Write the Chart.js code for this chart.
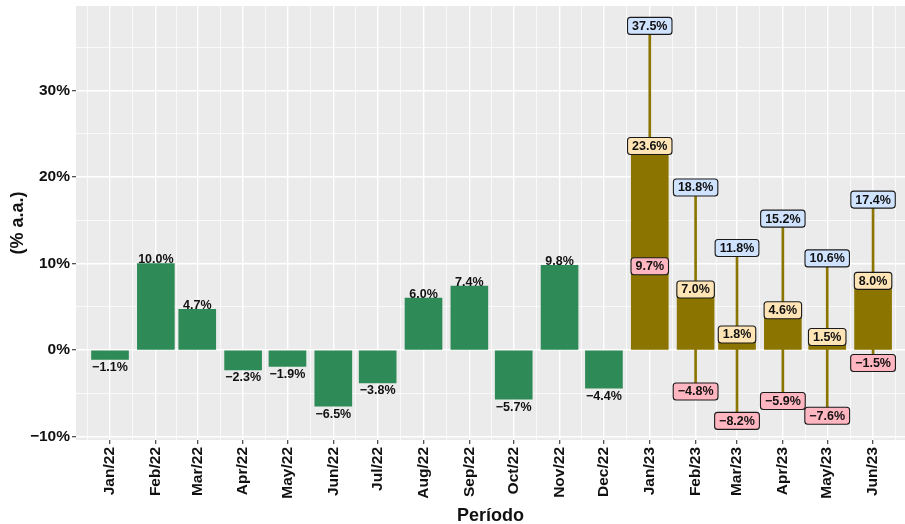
<!DOCTYPE html>
<html>
<head>
<meta charset="utf-8">
<script src="https://cdn.jsdelivr.net/npm/chart.js@4.4.1/dist/chart.umd.min.js"></script>
<style>
  html, body { margin: 0; padding: 0; background: #fff; }
  #wrap { width: 905px; height: 524px; }
</style>
</head>
<body>
<div id="wrap"><canvas id="chart" width="905" height="524"></canvas></div>
<script>
// ---- data ----
const periods = ['Jan/22', 'Feb/22', 'Mar/22', 'Apr/22', 'May/22', 'Jun/22', 'Jul/22', 'Aug/22',
                 'Sep/22', 'Oct/22', 'Nov/22', 'Dec/22', 'Jan/23', 'Feb/23', 'Mar/23', 'Apr/23',
                 'May/23', 'Jun/23'];
const values2022 = [-1.1, 10.0, 4.7, -2.3, -1.9, -6.5, -3.8, 6.0, 7.4, -5.7, 9.8, -4.4];
const mid2023 = [23.6, 7.0, 1.8, 4.6, 1.5, 8.0];
const high2023 = [37.5, 18.8, 11.8, 15.2, 10.6, 17.4];
const low2023 = [9.7, -4.8, -8.2, -5.9, -7.6, -1.5];
const yTickLabels = [-10, 0, 10, 20, 30];

const GREEN = '#2E8B57';
const GOLD = '#8B7500';

// date axis: days since 1 Jan 2022, one bar per month
function dayOf(i) {
    return (Date.UTC(2022, i, 1) - Date.UTC(2022, 0, 1)) / 864e5;
}
const majorDays = periods.map((p, i) => dayOf(i));

function pct(v) {
    const s = Math.abs(v).toFixed(1) + '%';
    return v < 0 ? '\u2212' + s : s;
}

/* ===============================
   PLUGINS
================================*/
const panelBg = {
    id: 'panelBg',
    beforeDraw(chart) {
        const { ctx, chartArea: a } = chart;
        ctx.save();
        ctx.fillStyle = '#EBEBEB';
        ctx.fillRect(a.left, a.top, a.right - a.left, a.bottom - a.top);
        ctx.restore();
    }
};

function boxLabel(ctx, text, cx, cy, fill) {
    const w = ctx.measureText(text).width + 9;
    const h = 17;
    const x = cx - w / 2, y = cy - h / 2, r = 3;
    ctx.beginPath();
    ctx.moveTo(x + r, y);
    ctx.arcTo(x + w, y, x + w, y + h, r);
    ctx.arcTo(x + w, y + h, x, y + h, r);
    ctx.arcTo(x, y + h, x, y, r);
    ctx.arcTo(x, y, x + w, y, r);
    ctx.closePath();
    ctx.fillStyle = fill;
    ctx.fill();
    ctx.lineWidth = 1.1;
    ctx.strokeStyle = '#1a1a1a';
    ctx.stroke();
    ctx.fillStyle = '#111';
    ctx.fillText(text, cx, cy + 0.5);
}

const valueLabels = {
    id: 'valueLabels',
    afterDatasetsDraw(chart) {
        const { ctx, scales: { x, y } } = chart;
        ctx.save();
        ctx.font = 'bold 12.5px "Liberation Sans", Arial, sans-serif';
        ctx.textAlign = 'center';

        // 2022 bars: plain text at the bar end
        ctx.fillStyle = '#111';
        ctx.textBaseline = 'alphabetic';
        values2022.forEach((v, i) => {
            const px = x.getPixelForValue(dayOf(i));
            const py = y.getPixelForValue(v);
            if (v >= 0) ctx.fillText(pct(v), px, py - 0.5);
            else ctx.fillText(pct(v), px, py + 11.5);
        });

        // 2023: boxed labels for high / mid / low
        ctx.textBaseline = 'middle';
        mid2023.forEach((v, i) => {
            const px = x.getPixelForValue(dayOf(12 + i));
            boxLabel(ctx, pct(high2023[i]), px, y.getPixelForValue(high2023[i]), '#CFE3FF');
            boxLabel(ctx, pct(low2023[i]), px, y.getPixelForValue(low2023[i]), '#FFB6C1');
            boxLabel(ctx, pct(v), px, y.getPixelForValue(v), '#FFE4B5');
        });
        ctx.restore();
    }
};

/* ===============================
   CHART
================================*/
const xTicks = [];
majorDays.forEach((d, i) => {
    const prev = i === 0 ? (Date.UTC(2021, 11, 1) - Date.UTC(2022, 0, 1)) / 864e5 : majorDays[i - 1];
    xTicks.push({ value: (prev + d) / 2 });
    xTicks.push({ value: d });
});
xTicks.push({ value: (majorDays[majorDays.length - 1] + dayOf(periods.length)) / 2 });

function isMajorX(c) { return !!c.tick && majorDays.indexOf(c.tick.value) !== -1; }
function isMajorY(c) { return !!c.tick && yTickLabels.indexOf(c.tick.value) !== -1; }

const tickFont = { family: '"Liberation Sans", Arial, sans-serif', size: 15.5, weight: 'bold' };
const titleFont = { family: '"Liberation Sans", Arial, sans-serif', size: 18, weight: 'bold' };

new Chart(document.getElementById('chart'), {
    type: 'bar',
    data: {
        datasets: [
            {
                label: '2022',
                data: values2022.map((v, i) => ({ x: dayOf(i), y: v })),
                backgroundColor: GREEN,
                barThickness: 37,
                grouped: false
            },
            {
                label: 'range 2023',
                data: low2023.map((lo, i) => ({ x: dayOf(12 + i), y: [lo, high2023[i]] })),
                backgroundColor: GOLD,
                barThickness: 2,
                grouped: false
            },
            {
                label: '2023',
                data: mid2023.map((v, i) => ({ x: dayOf(12 + i), y: v })),
                backgroundColor: GOLD,
                barThickness: 37,
                grouped: false
            }
        ]
    },
    options: {
        responsive: false,
        animation: false,
        layout: { padding: { top: 6, right: 0, left: 0, bottom: 0 } },
        plugins: {
            legend: { display: false },
            tooltip: { enabled: false }
        },
        scales: {
            x: {
                type: 'linear',
                offset: false,
                min: -23,
                max: dayOf(17) + 21.6,
                afterBuildTicks: (scale) => { scale.ticks = xTicks.map(t => ({ value: t.value })); },
                afterFit: (scale) => { scale.height = 84; scale.paddingLeft = 0; scale.paddingRight = 0; },
                border: { display: false },
                grid: {
                    offset: false,
                    color: (c) => isMajorX(c) ? '#FFFFFF' : 'rgba(255,255,255,0.85)',
                    lineWidth: (c) => isMajorX(c) ? 1.4 : 0.8,
                    tickColor: (c) => isMajorX(c) ? '#333333' : 'rgba(0,0,0,0)',
                    tickWidth: 1.1,
                    tickLength: 4
                },
                ticks: {
                    autoSkip: false,
                    maxRotation: 90,
                    minRotation: 90,
                    padding: 3,
                    color: '#111',
                    font: tickFont,
                    callback: (v) => {
                        const k = majorDays.indexOf(v);
                        return k === -1 ? '' : periods[k];
                    }
                },
                title: {
                    display: true,
                    text: 'Período',
                    color: '#111',
                    font: { ...titleFont, lineHeight: 0.85 },
                    padding: { top: 0, bottom: 0 }
                }
            },
            y: {
                min: -10.41,
                max: 39.8,
                afterFit: (scale) => { scale.width = 76; scale.paddingTop = 0; scale.paddingBottom = 0; },
                border: { display: false },
                grid: {
                    color: (c) => isMajorY(c) ? '#FFFFFF' : 'rgba(255,255,255,0.85)',
                    lineWidth: (c) => isMajorY(c) ? 1.4 : 0.8,
                    tickColor: (c) => isMajorY(c) ? '#333333' : 'rgba(0,0,0,0)',
                    tickWidth: 1.1,
                    tickLength: 4
                },
                ticks: {
                    stepSize: 5,
                    includeBounds: false,
                    padding: 2,
                    color: '#111',
                    font: tickFont,
                    callback: (v) => yTickLabels.indexOf(v) !== -1 ? (v < 0 ? '\u2212' : '') + Math.abs(v) + '%' : ''
                },
                title: {
                    display: true,
                    text: '(% a.a.)',
                    color: '#111',
                    font: titleFont,
                    padding: { top: 7, bottom: 0 }
                }
            }
        }
    },
    plugins: [panelBg, valueLabels]
});
</script>
</body>
</html>
